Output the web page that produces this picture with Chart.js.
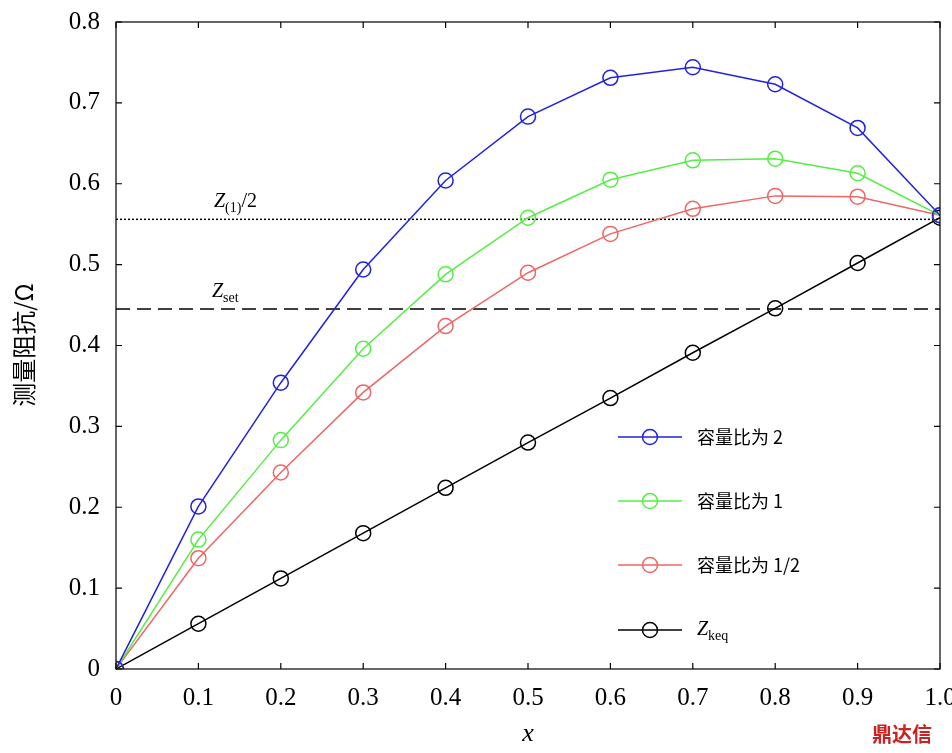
<!DOCTYPE html>
<html><head><meta charset="utf-8">
<script src="https://cdn.jsdelivr.net/npm/chart.js@4/dist/chart.umd.min.js"></script>
<style>html,body{margin:0;padding:0;background:#fff}#w{width:952px;height:753px}</style>
</head><body><div id="w"><canvas id="c"></canvas></div>
<script>
const xs=[0,0.1,0.2,0.3,0.4,0.5,0.6,0.7,0.8,0.9,1.0];
const ratio2=[0,0.201,0.354,0.494,0.604,0.683,0.731,0.744,0.723,0.669,0.561];
const ratio1=[0,0.160,0.283,0.396,0.488,0.558,0.605,0.629,0.631,0.613,0.561];
const ratioHalf=[0,0.137,0.243,0.342,0.424,0.490,0.538,0.569,0.585,0.584,0.561];
const zkeq=[0,0.056,0.112,0.168,0.224,0.280,0.335,0.391,0.446,0.502,0.558];
const zHalf=0.556, zSet=0.445;
const xTicks=['0','0.1','0.2','0.3','0.4','0.5','0.6','0.7','0.8','0.9','1.0'];
const names=[['容量比为 2',''],['容量比为 1',''],['容量比为 1/2',''],['Z','keq']];
const colors=['#2222dd','#55ee44','#ee6666','#000000'];
const SER=[ratio2,ratio1,ratioHalf,zkeq];
const pts=a=>a.map((v,i)=>({x:xs[i],y:v}));
const ds=SER.map((a,i)=>({data:pts(a),borderColor:colors[i],backgroundColor:'rgba(0,0,0,0)',borderWidth:1.5,pointRadius:7.5,pointBorderWidth:1.5,pointBackgroundColor:'rgba(0,0,0,0)',pointBorderColor:colors[i],tension:0,order:i}));
ds.push({data:[{x:0,y:zHalf},{x:1,y:zHalf}],borderColor:'#000',borderWidth:1.5,borderDash:[2,2],pointRadius:0,order:9});
ds.push({data:[{x:0,y:zSet},{x:1,y:zSet}],borderColor:'#000',borderWidth:1.5,borderDash:[14,7],pointRadius:0,order:9});
const serif='"Liberation Serif","Times New Roman",serif';
const deco={id:'deco',afterDraw(ch){
 const c=ch.ctx,a=ch.chartArea,X=ch.scales.x,Y=ch.scales.y;
 c.save();c.strokeStyle='#000';c.lineWidth=1.2;c.strokeRect(a.left,a.top,a.right-a.left,a.bottom-a.top);
 c.beginPath();
 xs.forEach(v=>{const p=X.getPixelForValue(v);c.moveTo(p,a.bottom);c.lineTo(p,a.bottom-6);c.moveTo(p,a.top);c.lineTo(p,a.top+6);});
 for(let i=0;i<=8;i++){const p=Y.getPixelForValue(i/10);c.moveTo(a.left,p);c.lineTo(a.left+6,p);c.moveTo(a.right,p);c.lineTo(a.right-6,p);}
 c.stroke();
 c.fillStyle='#000';c.textBaseline='alphabetic';
 function sub(x,y,m,s,t){c.font='italic 20px '+serif;c.fillText(m,x,y);let w=c.measureText(m).width;c.font='14px '+serif;c.fillText(s,x+w,y+5);let w2=c.measureText(s).width;if(t){c.font='20px '+serif;c.fillText(t,x+w+w2,y);}}
 sub(214,Y.getPixelForValue(zHalf)-12,'Z','(1)','/2');
 sub(212,Y.getPixelForValue(zSet)-12,'Z','set','');
 const ly=[437,501,565,630];
 ly.forEach((y,i)=>{c.strokeStyle=colors[i];c.lineWidth=1.5;c.setLineDash([]);c.beginPath();c.moveTo(618,y);c.lineTo(682,y);c.stroke();c.beginPath();c.arc(650,y,7.5,0,Math.PI*2);c.stroke();
  c.fillStyle='#000';c.textBaseline='middle';
  if(i<3){c.font='18px "Noto Sans CJK SC",'+serif;c.fillText(names[i][0],697,y);}
  else{c.font='italic 20px '+serif;c.fillText('Z',697,y);let w=c.measureText('Z').width;c.font='14px '+serif;c.fillText('keq',697+w,y+6);}
 });
 c.fillStyle='#000';c.textBaseline='middle';c.textAlign='center';
 c.font='italic 26px '+serif;c.fillText('x',528,734);
 c.translate(24,345);c.rotate(-Math.PI/2);c.font='24px "Noto Sans CJK SC",'+serif;c.fillText('测量阻抗/Ω',0,0);
 c.restore();
 c.save();c.fillStyle='#cc2222';c.font='bold 20px "Noto Sans CJK SC"';c.textAlign='left';c.textBaseline='middle';c.fillText('鼎达信',872,734);c.restore();
}};
new Chart(document.getElementById('c'),{type:'line',data:{datasets:ds},plugins:[deco],
options:{responsive:true,maintainAspectRatio:false,animation:false,layout:{padding:{left:0,right:12,top:22,bottom:0}},
plugins:{legend:{display:false},tooltip:{enabled:false}},
scales:{x:{type:'linear',min:0,max:1,grid:{display:false},border:{display:false},
 ticks:{stepSize:0.1,autoSkip:false,maxRotation:0,color:'#000',font:{family:serif,size:25},padding:6,callback:(v,i)=>xTicks[i]},
 afterFit:s=>{s.height=84;s.paddingRight=0;s.paddingLeft=0;}},
 y:{min:0,max:0.8,grid:{display:false},border:{display:false},
 ticks:{stepSize:0.1,color:'#000',font:{family:serif,size:25},padding:8,callback:v=>{const r=Math.round(v*10);return r===0?'0':(r/10).toFixed(1);}},
 afterFit:s=>{s.width=116;s.paddingTop=0;s.paddingBottom=0;}}}}});
</script></body></html>
